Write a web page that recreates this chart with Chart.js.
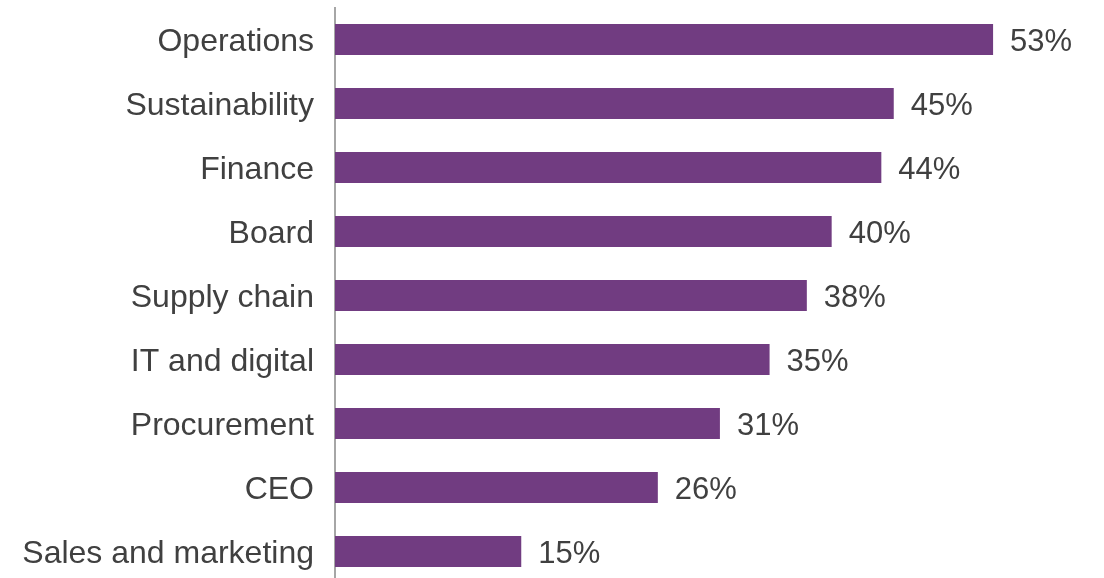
<!DOCTYPE html>
<html>
<head>
<meta charset="utf-8">
<script src="https://cdn.jsdelivr.net/npm/chart.js@4"></script>
<style>
  html, body { margin: 0; padding: 0; background: #fff; overflow: hidden; }
  #wrap { width: 1104px; height: 578px; overflow: hidden; }
</style>
</head>
<body>
<div id="wrap"><canvas id="chart" width="1104" height="592"></canvas></div>
<script>
// ── Data ──────────────────────────────────────────────────────────────────────
const categories = ['Operations', 'Sustainability', 'Finance', 'Board', 'Supply chain',
                    'IT and digital', 'Procurement', 'CEO', 'Sales and marketing'];
const shares     = [53, 45, 44, 40, 38, 35, 31, 26, 15];

const BAR_COLOR  = '#713c81';
const TEXT_COLOR = '#404040';
const FONT       = 'Liberation Sans, Arial, sans-serif';

// Percent labels to the right of each bar
const valueLabels = {
  id: 'valueLabels',
  afterDatasetsDraw(chart) {
    const { ctx } = chart;
    const meta = chart.getDatasetMeta(0);
    ctx.save();
    ctx.font = `31px ${FONT}`;
    ctx.fillStyle = TEXT_COLOR;
    ctx.textAlign = 'left';
    ctx.textBaseline = 'middle';
    meta.data.forEach((bar, i) => {
      ctx.fillText(`${shares[i]}%`, bar.x + 17, bar.y + 3);
    });
    ctx.restore();
  }
};

new Chart(document.getElementById('chart'), {
  type: 'bar',
  data: {
    labels: categories,
    datasets: [{
      data: shares,
      backgroundColor: BAR_COLOR,
      borderWidth: 0,
      categoryPercentage: 1,
      barPercentage: 0.484,
    }]
  },
  options: {
    indexAxis: 'y',
    responsive: false,
    animation: false,
    layout: { padding: { top: 7.5, bottom: 8.5, right: 24, left: 0 } },
    plugins: { legend: { display: false }, tooltip: { enabled: false } },
    scales: {
      x: { display: false, min: 0, max: 60 },
      y: {
        // fixed axis width; drop the label-height padding so rows fill the height
        afterFit: s => { s.width = 335; s.paddingTop = 0; s.paddingBottom = 0; },
        grid: { display: false, drawTicks: false },
        border: { display: true, color: '#a6a6a6', width: 2 },
        ticks: { color: TEXT_COLOR, padding: 21, labelOffset: 3, font: { family: FONT, size: 32 } },
      }
    }
  },
  plugins: [valueLabels]
});
</script>
</body>
</html>
